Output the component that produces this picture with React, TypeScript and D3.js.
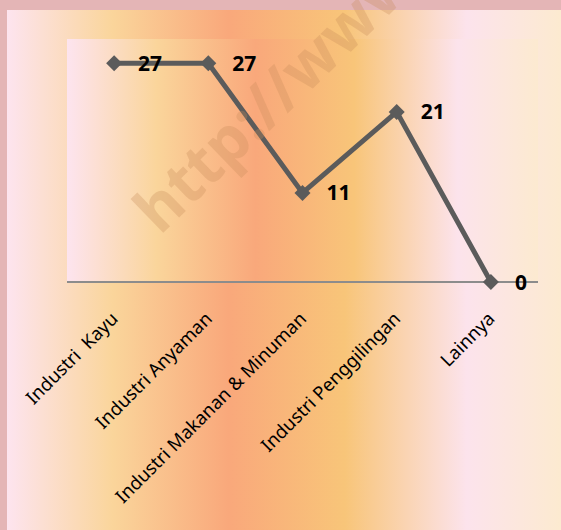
import React from "react";
import * as d3 from "d3";

const categories: string[] = [
  "Industri  Kayu",
  "Industri Anyaman",
  "Industri Makanan & Minuman",
  "Industri Penggilingan",
  "Lainnya",
];
const values: number[] = [27, 27, 11, 21, 0];
const yDomain: [number, number] = [0, 30];

const W = 561;
const H = 530;
const panel = { x: 7, y: 10, w: 554, h: 520 };
const plot = { left: 67, right: 538, top: 39, bottom: 282 };

const gradStops = [
  { o: 0, c: "#FDE4EF" },
  { o: 0.19, c: "#FAD59B" },
  { o: 0.4, c: "#F9A87B" },
  { o: 0.61, c: "#F8C579" },
  { o: 0.83, c: "#FCE3EC" },
  { o: 1, c: "#FCEAD0" },
];

export default function App() {
  const x = d3.scaleBand<string>().domain(categories).range([plot.left, plot.right]);
  const y = d3.scaleLinear().domain(yDomain).range([plot.bottom, plot.top]);
  const cx = (c: string) => (x(c) as number) + x.bandwidth() / 2;

  const line = d3
    .line<number>()
    .x((_, i) => cx(categories[i]))
    .y((d) => y(d));

  const diamond = d3.symbol().type(d3.symbolSquare).size(128)();

  return (
    <svg
      width={W}
      height={H}
      style={{ position: "absolute", left: 0, top: 0 }}
      xmlns="http://www.w3.org/2000/svg"
    >
      <defs>
        <linearGradient id="bg" x1="0" y1="0" x2="1" y2="0">
          {gradStops.map((s, i) => (
            <stop key={i} offset={s.o} stopColor={s.c} />
          ))}
        </linearGradient>
      </defs>
      <rect x={0} y={0} width={W} height={H} fill="#E4B5B6" />
      <rect x={panel.x} y={panel.y} width={panel.w} height={panel.h} fill="url(#bg)" />
      <rect
        x={plot.left}
        y={plot.top}
        width={plot.right - plot.left}
        height={plot.bottom - plot.top}
        fill="url(#bg)"
      />
      {/* axis line */}
      <line
        x1={plot.left}
        x2={plot.right}
        y1={y(0)}
        y2={y(0)}
        stroke="#8C8C8C"
        strokeWidth={2}
      />
      {/* category labels */}
      {categories.map((c) => {
        const ax = cx(c) + 5;
        const ay = plot.bottom + 38;
        return (
          <text
            key={c}
            transform={`translate(${ax},${ay}) rotate(-45)`}
            textAnchor="end"
            fontFamily="'Noto Sans', sans-serif"
            fontSize={18.5}
            fill="#000"
            style={{ whiteSpace: "pre" }}
          >
            {c}
          </text>
        );
      })}
      {/* line */}
      <path
        d={line(values) || ""}
        fill="none"
        stroke="#5B5B5B"
        strokeWidth={5}
        strokeLinejoin="miter"
      />
      {values.map((v, i) => (
        <path
          key={i}
          d={diamond || ""}
          transform={`translate(${cx(categories[i])},${y(v)}) rotate(45)`}
          fill="#5B5B5B"
        />
      ))}
      {values.map((v, i) => (
        <text
          key={"l" + i}
          x={cx(categories[i]) + 24}
          y={y(v)}
          dy="0.36em"
          fontFamily="'Noto Sans', sans-serif"
          fontWeight="bold"
          fontSize={21}
          fill="#000"
        >
          {v}
        </text>
      ))}
      {/* watermark */}
      <text
        transform="translate(160,236) rotate(-44)"
        fontFamily="'Noto Sans', sans-serif"
        fontWeight="bold"
        fontSize={62}
        fill="rgb(200,140,90)"
        fillOpacity={0.3}
      >
        http://www
      </text>
    </svg>
  );
}
